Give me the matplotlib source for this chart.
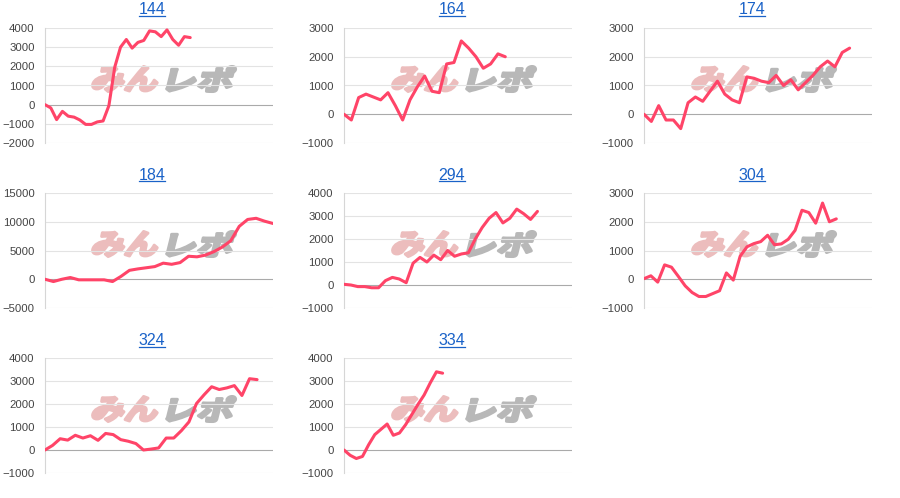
import matplotlib
matplotlib.use("Agg")
import matplotlib.pyplot as plt
from matplotlib.font_manager import FontProperties
from matplotlib.textpath import TextPath
from matplotlib.patches import PathPatch
from matplotlib.transforms import Affine2D, IdentityTransform
from matplotlib.lines import Line2D

plt.rcParams['font.family'] = ['Liberation Sans', 'DejaVu Sans']

# data
titles = ["144", "164", "174", "184", "294", "304", "324", "334"]
s144 = [0, -170, -780, -350, -600, -650, -800, -1030, -1030, -900, -850, -50, 1950,
        3000, 3400, 2950, 3250, 3350, 3850, 3800, 3550, 3900, 3400, 3100, 3550, 3500]
s164 = [0, -200, 580, 700, 600, 500, 750, 300, -200, 500, 950, 1330, 800, 750, 1750,
        1800, 2550, 2300, 2000, 1600, 1750, 2100, 2000]
s174 = [0, -250, 300, -200, -200, -500, 400, 600, 450, 800, 1150, 700, 500, 400, 1300,
        1250, 1150, 1100, 1350, 1000, 1200, 850, 1100, 1350, 1650, 1850, 1650, 2150, 2300]
s184 = [0, -400, 0, 300, -100, -100, -100, -100, -400, 500, 1550, 1800, 2000, 2200, 2800,
        2600, 2900, 4000, 3900, 4200, 4800, 5600, 6700, 9200, 10400, 10600, 10100, 9700]
s294 = [30, 0, -70, -70, -120, -120, 190, 330, 260, 100, 950, 1200, 1000, 1300, 1100,
        1500, 1250, 1350, 1400, 2000, 2500, 2900, 3150, 2700, 2900, 3300, 3100, 2850, 3200]
s304 = [20, 120, -100, 500, 420, 100, -230, -460, -600, -600, -500, -400, 220, -30, 800,
        1130, 1240, 1310, 1530, 1200, 1230, 1390, 1700, 2400, 2320, 1950, 2650, 2000, 2100]
s324 = [0, 200, 490, 430, 640, 520, 620, 420, 720, 670, 450, 380, 280, 0, 40, 90, 520,
        520, 840, 1220, 2020, 2400, 2750, 2630, 2700, 2800, 2370, 3100, 3060]
s334 = [0, -230, -370, -280, 230, 670, 900, 1130, 640, 740, 1100, 1540, 1980, 2390,
        2920, 3400, 3340]
series = [s144, s164, s174, s184, s294, s304, s324, s334]

# axis ranges
y_ranges = [(-2000, 4000, 1000), (-1000, 3000, 1000), (-1000, 3000, 1000), (-5000, 15000, 5000),
            (-1000, 4000, 1000), (-1000, 3000, 1000), (-1000, 4000, 1000), (-1000, 4000, 1000)]
x_slots = [39.25, 31.1, 31.05, 27, 33, 33.2, 30.1, 37]

W, H = 900, 498
fig = plt.figure(figsize=(W / 100, H / 100), dpi=100)

col_left = [45, 344, 644]
row_top = [28, 193, 358]
ax_w, ax_h = 228, 115
line_color = "#ff4468"

title_texts = []
for i, vals in enumerate(series):
    r, c = divmod(i, 3)
    ax = fig.add_axes([col_left[c] / W, 1 - (row_top[r] + ax_h) / H, ax_w / W, ax_h / H])
    ax.set_facecolor("none")
    lo, hi, step = y_ranges[i]
    ax.set_ylim(lo, hi)
    ax.set_xlim(0, x_slots[i])
    ax.set_yticks(range(lo, hi + 1, step))
    ax.set_xticks([])
    for v in range(lo, hi + 1, step):
        ax.axhline(v, color="#aaaaaa" if v == 0 else "#e3e3e3", lw=0.8, zorder=1)
    for s in ["top", "right", "bottom"]:
        ax.spines[s].set_visible(False)
    ax.spines["left"].set_color("#d6d6d6")
    ax.spines["left"].set_linewidth(0.8)
    ax.tick_params(axis="y", length=0, pad=7.5, labelsize=8.2, labelcolor="#444444")
    ax.plot(range(len(vals)), vals, color=line_color, lw=2.2, zorder=3,
            solid_joinstyle="round", solid_capstyle="round")
    t = fig.text((c * 300 + 152) / W, 1 - (10 + r * 165) / H, titles[i],
                 ha="center", va="center", fontsize=11.5, color="#1a62c8")
    title_texts.append(t)

# watermark logo behind each chart
fp = FontProperties(family="Noto Sans CJK JP", weight="bold")
for i in range(len(series)):
    r, c = divmod(i, 3)
    cx, cy = c * 300 + 166, 79 + r * 165
    for txt, col, x0 in [("みん", "#ecbdbd", cx - 72), ("レポ", "#b8b8b8", cx + 3)]:
        tp = TextPath((0, 0), txt, size=1, prop=fp)
        ext = tp.get_extents()
        tr = (Affine2D().translate(-ext.x0, -ext.y0)
              .scale(64 / ext.width, 25 / ext.height)
              .skew_deg(14, 0)
              .translate(x0 - 3, H - cy - 12.5))
        p = PathPatch(tr.transform_path(tp), fc=col, ec=col, lw=2.2, zorder=-1,
                      joinstyle="round", transform=IdentityTransform())
        fig.add_artist(p)

# underline the titles like links
fig.canvas.draw()
renderer = fig.canvas.get_renderer()
for t in title_texts:
    bb = t.get_window_extent(renderer)
    ln = Line2D([bb.x0, bb.x1], [bb.y0 + 1, bb.y0 + 1], color="#1a62c8", lw=0.9,
                transform=IdentityTransform())
    fig.add_artist(ln)

fig.savefig("out.png", dpi=100)
